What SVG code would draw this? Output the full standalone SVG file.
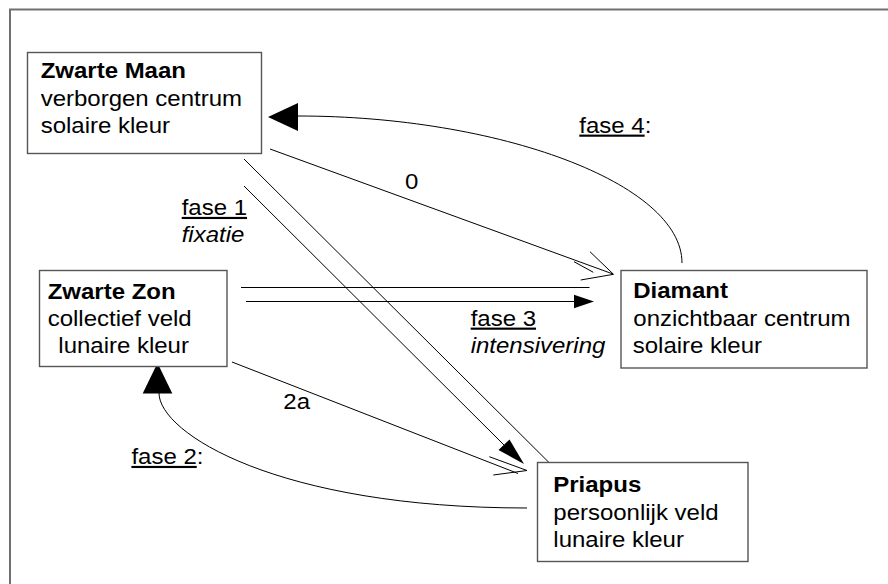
<svg xmlns="http://www.w3.org/2000/svg" width="888" height="584" viewBox="0 0 888 584">
<style>
.frame{fill:none;stroke:#707070;stroke-width:2}
.box{fill:#fff;stroke:#555;stroke-width:1.4}
.ln{fill:none;stroke:#000;stroke-width:1}
.fill{fill:#000;stroke:none}
text{font-family:"Liberation Sans",Arial,Helvetica,sans-serif;font-size:21.5px;fill:#000}
.b{font-weight:bold}
.i{font-style:italic}
.u{text-decoration:underline}
</style>
<rect width="888" height="584" fill="#fff"/>
<rect class="frame" x="10" y="9.5" width="900" height="600"/>
<g id="connectors">
  <!-- fase 4: Diamant -> Zwarte Maan -->
  <path class="ln" d="M682,263 C682,183 498,116 298,116"/>
  <polygon class="fill" points="268,117 298,103 298,131"/>
  <!-- 0: Zwarte Maan -> Diamant -->
  <line class="ln" x1="270" y1="149" x2="613" y2="274"/>
  <line class="ln" x1="590" y1="251.7" x2="613.5" y2="274.3"/>
  <line class="ln" x1="580.7" y1="280" x2="613.5" y2="274.3"/>
  <line class="ln" x1="574" y1="261.7" x2="593.3" y2="272.3"/>
  <!-- fase 1: Zwarte Maan -> Priapus -->
  <line class="ln" x1="244" y1="159" x2="555.5" y2="469"/>
  <line class="ln" x1="244" y1="186" x2="505" y2="446"/>
  <polygon class="fill" points="524,464 498.5,450 509.5,439.5"/>
  <!-- fase 3: Zwarte Zon -> Diamant -->
  <line class="ln" x1="241" y1="287.5" x2="589.5" y2="287.5"/>
  <line class="ln" x1="246" y1="301.5" x2="576" y2="301.5"/>
  <polygon class="fill" points="594,301.5 574,294.7 574,308.3"/>
  <!-- 2a: Zwarte Zon -> Priapus -->
  <line class="ln" x1="232" y1="362" x2="518" y2="473.5"/>
  <line class="ln" x1="489.3" y1="456.7" x2="527" y2="470.5"/>
  <line class="ln" x1="493.3" y1="475" x2="527" y2="470.5"/>
  <!-- fase 2: Priapus -> Zwarte Zon -->
  <path class="ln" d="M527,508 C277,508 159,433 159,393"/>
  <polygon class="fill" points="157.5,363 142.7,393.5 172.3,393.5"/>
  <!-- labels -->
  <text transform="translate(579.3,132.7) scale(1.116,1)"><tspan class="u">fase 4</tspan>:</text>
  <text transform="translate(405,189) scale(1.116,1)">0</text>
  <text transform="translate(181.7,215) scale(1.116,1)"><tspan class="u">fase 1</tspan><tspan class="i" x="0" dy="27.3">fixatie</tspan></text>
  <text transform="translate(470.7,325.7) scale(1.116,1)"><tspan class="u">fase 3</tspan><tspan class="i" x="0" dy="27.6">intensivering</tspan></text>
  <text transform="translate(283.3,409.3) scale(1.116,1)">2a</text>
  <text transform="translate(131.4,464) scale(1.116,1)"><tspan class="u">fase 2</tspan>:</text>
</g>
<g id="zwarte-maan">
  <rect class="box" x="27.5" y="52.5" width="234" height="101"/>
  <text transform="translate(40.7,78.3) scale(1.116,1)"><tspan class="b">Zwarte Maan</tspan><tspan x="0" dy="27.3">verborgen centrum</tspan><tspan x="0" dy="27">solaire kleur</tspan></text>
</g>
<g id="zwarte-zon">
  <rect class="box" x="39.5" y="270.5" width="187.5" height="96"/>
  <text transform="translate(47.7,299.3) scale(1.116,1)"><tspan class="b">Zwarte Zon</tspan><tspan x="0" dy="27">collectief veld</tspan><tspan x="9.5" dy="27">lunaire kleur</tspan></text>
</g>
<g id="diamant">
  <rect class="box" x="621" y="270.5" width="246" height="97.5"/>
  <text transform="translate(633.3,298.3) scale(1.116,1)"><tspan class="b">Diamant</tspan><tspan x="0" dy="27.4">onzichtbaar centrum</tspan><tspan x="-0.5" dy="27.6">solaire kleur</tspan></text>
</g>
<g id="priapus">
  <rect class="box" x="537.5" y="462.5" width="210.5" height="99"/>
  <text transform="translate(553.3,491.7) scale(1.116,1)"><tspan class="b">Priapus</tspan><tspan x="0" dy="28.3">persoonlijk veld</tspan><tspan x="0" dy="26.7">lunaire kleur</tspan></text>
</g>
</svg>
